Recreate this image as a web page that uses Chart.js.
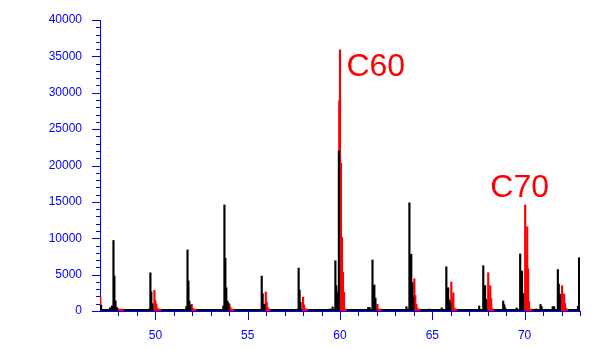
<!DOCTYPE html>
<html>
<head>
<meta charset="utf-8">
<script src="https://cdn.jsdelivr.net/npm/chart.js@4.4.1/dist/chart.umd.min.js"></script>
<style>
  html, body { margin: 0; padding: 0; background: #fff; }
  canvas { display: block; }
</style>
</head>
<body>
<canvas id="chart" width="600" height="350"></canvas>
<script>
// spectrum peaks (x in axis units, y in counts)
var blackX = [47.06,
  47.55, 47.65, 47.73, 47.78, 47.84, 47.92,
  49.68, 49.73, 49.78, 49.84,
  51.68, 51.74, 51.79, 51.84, 51.89,
  53.68, 53.74, 53.79, 53.84, 53.90, 53.95,
  55.70, 55.76, 55.81, 55.86, 55.91,
  57.70, 57.76, 57.81, 57.86,
  59.45, 59.60, 59.75, 59.80, 59.86, 59.94,
  61.52, 61.60, 61.76, 61.81, 61.86, 61.92,
  63.60, 63.76, 63.81, 63.86, 63.92, 63.97,
  64.83,
  65.51, 65.76, 65.81, 65.86, 65.92, 65.97,
  67.16,
  67.54, 67.76, 67.81, 67.86, 67.92,
  68.84, 68.90, 68.95,
  69.57, 69.76, 69.81, 69.86, 69.92,
  70.62, 70.86, 70.92,
  71.52, 71.60, 71.80, 71.85, 71.91,
  72.89, 72.95];
var blackY = [800,
  450, 700, 9700, 4800, 1400, 480,
  300, 5250, 2650, 1000,
  600, 8400, 4130, 1370, 820,
  690, 14580, 7240, 3200, 1370, 1100,
  230, 4800, 2380, 960, 900,
  250, 5900, 2890, 1190,
  280, 550, 6900, 3480, 2600, 22000,
  460, 500, 7010, 3480, 3575, 1780,
  600, 14870, 7470, 7800, 3900, 1900,
  275,
  430, 6070, 3070, 3200, 1510, 1100,
  230,
  700, 6230, 3400, 3500, 1580,
  1375, 870, 410,
  410, 7840, 4500, 5500, 2400,
  275, 900, 600,
  600, 600, 5700, 3700, 2300,
  650, 7330];

var redX = [47.02,
  47.98, 48.03, 48.08, 48.14, 48.19, 48.25,
  49.95, 50.00, 50.05, 50.10, 50.16, 50.21, 50.27,
  51.97, 52.02, 52.07, 52.13, 52.18,
  54.01, 54.06, 54.12, 54.17, 54.23,
  55.98, 56.03, 56.08, 56.14, 56.19,
  58.00, 58.05, 58.11, 58.16, 58.22,
  59.96, 60.00, 60.05, 60.11, 60.16, 60.22, 60.27, 60.32,
  62.03, 62.08, 62.14, 62.19,
  64.03, 64.08, 64.14, 64.19, 64.24, 64.30,
  66.03, 66.08, 66.14, 66.19, 66.24, 66.30,
  68.03, 68.08, 68.14, 68.19, 68.24, 68.30,
  70.03, 70.08, 70.14, 70.19, 70.24, 70.30, 70.35,
  72.03, 72.08, 72.14, 72.19, 72.24, 72.30];
var redY = [1900,
  300, 250, 250, 250, 250, 250,
  2850, 1380, 960, 410, 250, 250, 250,
  920, 370, 250, 250, 250,
  960, 550, 250, 250, 250,
  2610, 1240, 500, 250, 250,
  1920, 820, 320, 250, 250,
  28900, 35900, 20300, 10130, 5320, 2570, 250, 250,
  920, 300, 250, 250,
  4420, 2150, 940, 410, 250, 250,
  3990, 1950, 2500, 410, 250, 250,
  5270, 2610, 3480, 1700, 320, 250,
  14580, 7310, 11570, 5800, 1280, 250, 250,
  3480, 1740, 2340, 1050, 370, 250];

// noise floor along the whole trace
var floorX = [47, 73];
var floorY = [150, 150];

var xTickLabels = [50, 55, 60, 65, 70];
var yTickLabels = [0, 5000, 10000, 15000, 20000, 25000, 30000, 35000, 40000];

var peakNames = ['C60', 'C70'];
var peakNameX = [60.35, 68.14];
var peakNameY = [32300, 15670];

var BLUE = '#0000ff';
var FONT = { family: '"Liberation Sans", Arial, sans-serif', size: 12 };

function pairs(xs, ys) {
  return xs.map(function (x, i) { return { x: x, y: ys[i] }; });
}

// minor/major tick marks (Chart.js can't do two tick lengths on one axis)
var tickMarks = {
  id: 'tickMarks',
  afterDraw: function (chart) {
    var ctx = chart.ctx, xs = chart.scales.x, ys = chart.scales.y;
    var area = chart.chartArea;
    ctx.save();
    ctx.strokeStyle = BLUE;
    ctx.lineWidth = 1;
    ctx.beginPath();
    for (var v = 48; v <= 73; v++) {
      var px = Math.round(xs.getPixelForValue(v)) + 0.5;
      ctx.moveTo(px, area.bottom);
      ctx.lineTo(px, area.bottom + (v % 5 === 0 ? 9 : 5));
    }
    for (var w = 0; w <= 40000; w += 1000) {
      var py = Math.round(ys.getPixelForValue(w)) + 0.5;
      ctx.moveTo(area.left, py);
      ctx.lineTo(area.left - (w % 5000 === 0 ? 8 : 4), py);
    }
    ctx.stroke();
    ctx.restore();
  }
};

var peakLabels = {
  id: 'peakLabels',
  afterDatasetsDraw: function (chart) {
    var ctx = chart.ctx, xs = chart.scales.x, ys = chart.scales.y;
    ctx.save();
    ctx.fillStyle = '#ff0000';
    ctx.font = '32px "Liberation Sans", Arial, sans-serif';
    ctx.textAlign = 'left';
    ctx.textBaseline = 'alphabetic';
    peakNames.forEach(function (name, i) {
      ctx.fillText(name, xs.getPixelForValue(peakNameX[i]), ys.getPixelForValue(peakNameY[i]));
    });
    ctx.restore();
  }
};

new Chart(document.getElementById('chart'), {
  type: 'bar',
  data: {
    datasets: [
      { data: pairs(blackX, blackY), backgroundColor: '#000000', barThickness: 1.5, order: 1 },
      { data: pairs(redX, redY), backgroundColor: '#ff0000', barThickness: 1.5, order: 2 },
      { type: 'line', data: pairs(floorX, floorY), borderColor: '#000000', borderWidth: 2,
        pointRadius: 0, order: 3 }
    ]
  },
  options: {
    responsive: false,
    animation: false,
    events: [],
    layout: { padding: { top: 20, right: 20, left: 0, bottom: 0 } },
    plugins: { legend: { display: false }, tooltip: { enabled: false } },
    scales: {
      x: {
        type: 'linear', min: 47, max: 73, offset: false, stacked: true,
        grid: { display: false },
        border: { display: true, color: BLUE },
        afterBuildTicks: function (s) { s.ticks = xTickLabels.map(function (v) { return { value: v }; }); },
        afterFit: function (s) { s.height = 39; },
        ticks: { color: BLUE, font: FONT, padding: 9, maxRotation: 0, autoSkip: false,
                 callback: function (v) { return String(v); } }
      },
      y: {
        min: 0, max: 40000,
        grid: { display: false },
        border: { display: true, color: BLUE },
        afterBuildTicks: function (s) { s.ticks = yTickLabels.map(function (v) { return { value: v }; }); },
        afterFit: function (s) { s.width = 100; },
        ticks: { color: BLUE, font: FONT, padding: 10,
                 callback: function (v) { return String(v); } }
      }
    }
  },
  plugins: [tickMarks, peakLabels]
});
</script>
</body>
</html>
